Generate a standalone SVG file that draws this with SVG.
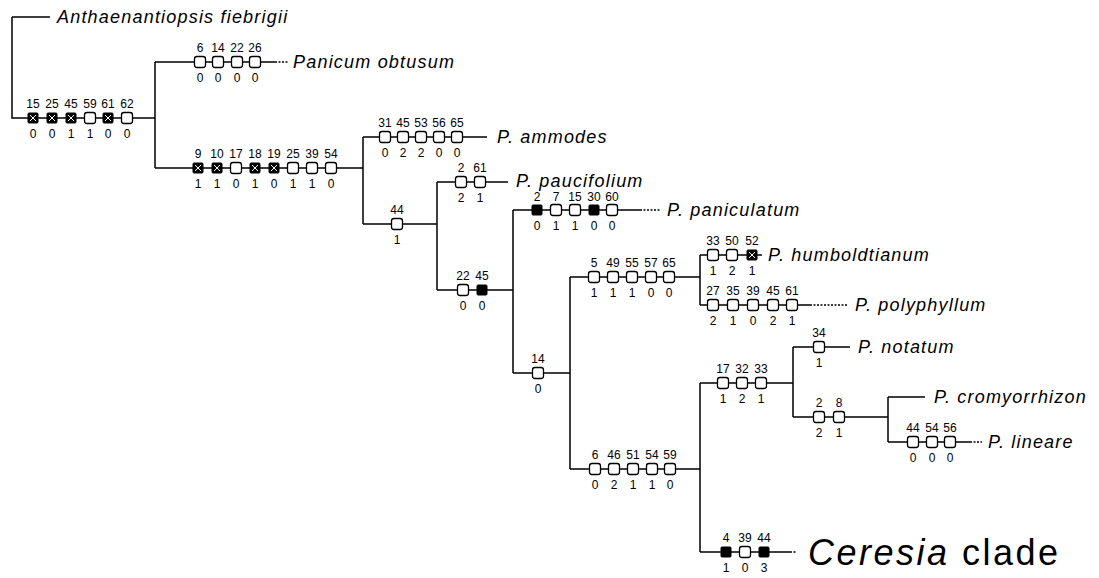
<svg xmlns="http://www.w3.org/2000/svg" xmlns:xlink="http://www.w3.org/1999/xlink" width="1099" height="578" viewBox="0 0 1099 578">
<style>
.ln{stroke:#000;stroke-width:1.5;fill:none}
.dl{stroke:#000;stroke-width:1.5;fill:none;stroke-dasharray:2 1.5}
.o{fill:#fff;stroke:#000;stroke-width:1.3}
.f{fill:#000;stroke:#000;stroke-width:1}
.xw{stroke:#fff;stroke-width:1;fill:none}
.n{font-family:"Liberation Sans",Arial,sans-serif;font-size:12px;text-anchor:middle;fill:#000}
.t{font-family:"Liberation Sans",Arial,sans-serif;font-size:18px;font-style:italic;letter-spacing:1.2px;fill:#000}
.big{font-family:"Liberation Sans",Arial,sans-serif;font-size:36px;letter-spacing:2.5px;fill:#000}
</style>
<defs>
<g id="bo"><rect class="o" x="-5.5" y="-5.5" width="11" height="11" rx="2.5"/></g>
<g id="bf"><rect class="f" x="-5" y="-5" width="10" height="10" rx="1"/></g>
<g id="bx"><rect class="f" x="-5" y="-5" width="10" height="10" rx="1"/><path class="xw" d="M-3-3L3 3M3-3L-3 3"/></g>
</defs>
<rect width="1099" height="578" fill="#fff"/>
<g id="connectors">
<path class="ln" d="M12 17H50M12 17V118H155M155 62V168M155 62H275M155 168H363M363 137V224M363 137H487M363 224H437M437 182V290M437 182H508M437 290H513M513 210V373M513 210H640M513 373H570M570 277V469M570 277H700M570 469H700M700 255V305M700 255H762M700 305H810M700 383V552M700 383H793M700 552H790M793 347V417M793 347H850M793 417H888M888 397V442M888 397H925M888 442H970"/>
<path class="dl" d="M275 62H288M640 210H660M810 305H848M970 442H982M790 552H797"/>
</g>
<g id="taxon-anthaenantiopsis"><text class="t" x="57" y="23">Anthaenantiopsis fiebrigii</text></g>
<g id="branch-root">
<use xlink:href="#bx" x="33" y="118"/><use xlink:href="#bx" x="52" y="118"/><use xlink:href="#bx" x="71" y="118"/><use xlink:href="#bo" x="90" y="118"/><use xlink:href="#bx" x="108" y="118"/><use xlink:href="#bo" x="127" y="118"/>
<text class="n" x="33" y="108">15</text><text class="n" x="52" y="108">25</text><text class="n" x="71" y="108">45</text><text class="n" x="90" y="108">59</text><text class="n" x="108" y="108">61</text><text class="n" x="127" y="108">62</text>
<text class="n" x="33" y="138">0</text><text class="n" x="52" y="138">0</text><text class="n" x="71" y="138">1</text><text class="n" x="90" y="138">1</text><text class="n" x="108" y="138">0</text><text class="n" x="127" y="138">0</text>
</g>
<g id="taxon-panicum">
<use xlink:href="#bo" x="200" y="62"/><use xlink:href="#bo" x="218" y="62"/><use xlink:href="#bo" x="237" y="62"/><use xlink:href="#bo" x="255" y="62"/>
<text class="n" x="200" y="52">6</text><text class="n" x="218" y="52">14</text><text class="n" x="237" y="52">22</text><text class="n" x="255" y="52">26</text>
<text class="n" x="200" y="82">0</text><text class="n" x="218" y="82">0</text><text class="n" x="237" y="82">0</text><text class="n" x="255" y="82">0</text>
<text class="t" x="293" y="68">Panicum obtusum</text>
</g>
<g id="branch-9-54">
<use xlink:href="#bx" x="198" y="168"/><use xlink:href="#bx" x="217" y="168"/><use xlink:href="#bo" x="236" y="168"/><use xlink:href="#bx" x="255" y="168"/><use xlink:href="#bx" x="274" y="168"/><use xlink:href="#bo" x="293" y="168"/><use xlink:href="#bo" x="312" y="168"/><use xlink:href="#bo" x="331" y="168"/>
<text class="n" x="198" y="158">9</text><text class="n" x="217" y="158">10</text><text class="n" x="236" y="158">17</text><text class="n" x="255" y="158">18</text><text class="n" x="274" y="158">19</text><text class="n" x="293" y="158">25</text><text class="n" x="312" y="158">39</text><text class="n" x="331" y="158">54</text>
<text class="n" x="198" y="188">1</text><text class="n" x="217" y="188">1</text><text class="n" x="236" y="188">0</text><text class="n" x="255" y="188">1</text><text class="n" x="274" y="188">0</text><text class="n" x="293" y="188">1</text><text class="n" x="312" y="188">1</text><text class="n" x="331" y="188">0</text>
</g>
<g id="taxon-ammodes">
<use xlink:href="#bo" x="385" y="137"/><use xlink:href="#bo" x="403" y="137"/><use xlink:href="#bo" x="421" y="137"/><use xlink:href="#bo" x="439" y="137"/><use xlink:href="#bo" x="457" y="137"/>
<text class="n" x="385" y="127">31</text><text class="n" x="403" y="127">45</text><text class="n" x="421" y="127">53</text><text class="n" x="439" y="127">56</text><text class="n" x="457" y="127">65</text>
<text class="n" x="385" y="157">0</text><text class="n" x="403" y="157">2</text><text class="n" x="421" y="157">2</text><text class="n" x="439" y="157">0</text><text class="n" x="457" y="157">0</text>
<text class="t" x="497" y="143">P. ammodes</text>
</g>
<g id="branch-44">
<use xlink:href="#bo" x="397" y="224"/>
<text class="n" x="397" y="214">44</text><text class="n" x="397" y="244">1</text>
</g>
<g id="taxon-paucifolium">
<use xlink:href="#bo" x="461" y="182"/><use xlink:href="#bo" x="480" y="182"/>
<text class="n" x="461" y="172">2</text><text class="n" x="480" y="172">61</text>
<text class="n" x="461" y="202">2</text><text class="n" x="480" y="202">1</text>
<text class="t" x="516" y="187">P. paucifolium</text>
</g>
<g id="branch-22-45">
<use xlink:href="#bo" x="463" y="290"/><use xlink:href="#bf" x="482" y="290"/>
<text class="n" x="463" y="280">22</text><text class="n" x="482" y="280">45</text>
<text class="n" x="463" y="310">0</text><text class="n" x="482" y="310">0</text>
</g>
<g id="taxon-paniculatum">
<use xlink:href="#bf" x="537" y="210"/><use xlink:href="#bo" x="556" y="210"/><use xlink:href="#bo" x="575" y="210"/><use xlink:href="#bf" x="594" y="210"/><use xlink:href="#bo" x="612" y="210"/>
<text class="n" x="537" y="201">2</text><text class="n" x="556" y="201">7</text><text class="n" x="575" y="201">15</text><text class="n" x="594" y="201">30</text><text class="n" x="612" y="201">60</text>
<text class="n" x="537" y="230">0</text><text class="n" x="556" y="230">1</text><text class="n" x="575" y="230">1</text><text class="n" x="594" y="230">0</text><text class="n" x="612" y="230">0</text>
<text class="t" x="667" y="216">P. paniculatum</text>
</g>
<g id="branch-14">
<use xlink:href="#bo" x="538" y="373"/>
<text class="n" x="538" y="363">14</text><text class="n" x="538" y="393">0</text>
</g>
<g id="branch-5-65">
<use xlink:href="#bo" x="594" y="277"/><use xlink:href="#bo" x="613" y="277"/><use xlink:href="#bo" x="632" y="277"/><use xlink:href="#bo" x="651" y="277"/><use xlink:href="#bo" x="669" y="277"/>
<text class="n" x="594" y="267">5</text><text class="n" x="613" y="267">49</text><text class="n" x="632" y="267">55</text><text class="n" x="651" y="267">57</text><text class="n" x="669" y="267">65</text>
<text class="n" x="594" y="297">1</text><text class="n" x="613" y="297">1</text><text class="n" x="632" y="297">1</text><text class="n" x="651" y="297">0</text><text class="n" x="669" y="297">0</text>
</g>
<g id="taxon-humboldtianum">
<use xlink:href="#bo" x="713" y="255"/><use xlink:href="#bo" x="732" y="255"/><use xlink:href="#bx" x="752" y="255"/>
<text class="n" x="713" y="245">33</text><text class="n" x="732" y="245">50</text><text class="n" x="752" y="245">52</text>
<text class="n" x="713" y="275">1</text><text class="n" x="732" y="275">2</text><text class="n" x="752" y="275">1</text>
<text class="t" x="768" y="261">P. humboldtianum</text>
</g>
<g id="taxon-polyphyllum">
<use xlink:href="#bo" x="713" y="305"/><use xlink:href="#bo" x="733" y="305"/><use xlink:href="#bo" x="753" y="305"/><use xlink:href="#bo" x="773" y="305"/><use xlink:href="#bo" x="792" y="305"/>
<text class="n" x="713" y="295">27</text><text class="n" x="733" y="295">35</text><text class="n" x="753" y="295">39</text><text class="n" x="773" y="295">45</text><text class="n" x="792" y="295">61</text>
<text class="n" x="713" y="325">2</text><text class="n" x="733" y="325">1</text><text class="n" x="753" y="325">0</text><text class="n" x="773" y="325">2</text><text class="n" x="792" y="325">1</text>
<text class="t" x="855" y="311">P. polyphyllum</text>
</g>
<g id="branch-6-59">
<use xlink:href="#bo" x="595" y="469"/><use xlink:href="#bo" x="614" y="469"/><use xlink:href="#bo" x="633" y="469"/><use xlink:href="#bo" x="652" y="469"/><use xlink:href="#bo" x="670" y="469"/>
<text class="n" x="595" y="459">6</text><text class="n" x="614" y="459">46</text><text class="n" x="633" y="459">51</text><text class="n" x="652" y="459">54</text><text class="n" x="670" y="459">59</text>
<text class="n" x="595" y="489">0</text><text class="n" x="614" y="489">2</text><text class="n" x="633" y="489">1</text><text class="n" x="652" y="489">1</text><text class="n" x="670" y="489">0</text>
</g>
<g id="branch-17-33">
<use xlink:href="#bo" x="723" y="383"/><use xlink:href="#bo" x="742" y="383"/><use xlink:href="#bo" x="761" y="383"/>
<text class="n" x="723" y="373">17</text><text class="n" x="742" y="373">32</text><text class="n" x="761" y="373">33</text>
<text class="n" x="723" y="403">1</text><text class="n" x="742" y="403">2</text><text class="n" x="761" y="403">1</text>
</g>
<g id="taxon-notatum">
<use xlink:href="#bo" x="819" y="347"/>
<text class="n" x="819" y="337">34</text><text class="n" x="819" y="367">1</text>
<text class="t" x="858" y="353">P. notatum</text>
</g>
<g id="branch-2-8">
<use xlink:href="#bo" x="819" y="417"/><use xlink:href="#bo" x="839" y="417"/>
<text class="n" x="819" y="407">2</text><text class="n" x="839" y="407">8</text>
<text class="n" x="819" y="437">2</text><text class="n" x="839" y="437">1</text>
</g>
<g id="taxon-cromyorrhizon"><text class="t" x="934" y="403">P. cromyorrhizon</text></g>
<g id="taxon-lineare">
<use xlink:href="#bo" x="913" y="442"/><use xlink:href="#bo" x="932" y="442"/><use xlink:href="#bo" x="950" y="442"/>
<text class="n" x="913" y="432">44</text><text class="n" x="932" y="432">54</text><text class="n" x="950" y="432">56</text>
<text class="n" x="913" y="462">0</text><text class="n" x="932" y="462">0</text><text class="n" x="950" y="462">0</text>
<text class="t" x="988" y="448">P. lineare</text>
</g>
<g id="taxon-ceresia">
<use xlink:href="#bf" x="726" y="552"/><use xlink:href="#bo" x="745" y="552"/><use xlink:href="#bf" x="764" y="552"/>
<text class="n" x="726" y="542">4</text><text class="n" x="745" y="542">39</text><text class="n" x="764" y="542">44</text>
<text class="n" x="726" y="572">1</text><text class="n" x="745" y="572">0</text><text class="n" x="764" y="572">3</text>
<text class="big" x="808" y="565"><tspan font-style="italic">Ceresia</tspan> clade</text>
</g>
</svg>
